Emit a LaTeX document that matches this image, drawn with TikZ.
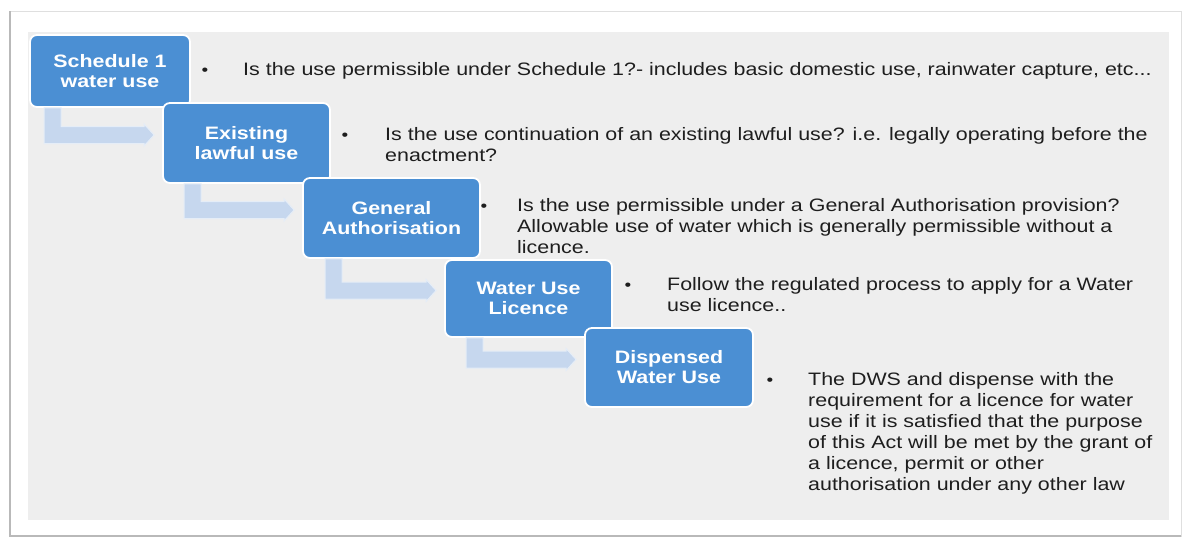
\documentclass[tikz,border=0pt]{standalone}
\usepackage{fontspec}
\setmainfont{Liberation Sans}[FakeStretch=1.19]
\usetikzlibrary{calc}
\definecolor{boxblue}{HTML}{4B8FD3}
\definecolor{arrowfill}{HTML}{C6D7EE}
\definecolor{panelgray}{HTML}{EEEEEE}
\definecolor{txt}{HTML}{1E1E1E}
\newcommand\bodylines[1]{\begin{tabular}[t]{@{}l@{}}#1\end{tabular}}
\newcommand\steparrow[3]{%
  \coordinate (sa) at ($(#1.south west)+(#3,0)$);
  \coordinate (sb) at ($(sa)+(17,0)$);
  \coordinate (ta) at ($(#2.west)+(-8,-8)$);
  \coordinate (tu) at ($(ta)+(-10,-8.5)$);
  \coordinate (tl) at ($(ta)+(-10,8.5)$);
  \coordinate (hu) at ($(ta)+(-10,-11)$);
  \coordinate (hl) at ($(ta)+(-10,11)$);
  \filldraw[bentarrow] (sa) -- (sb) -- (sb |- tu) -- (tu) -- (hu) -- (ta) -- (hl) -- (tl) -- (sa |- tl) -- cycle;
}
\begin{document}
\begin{tikzpicture}[x=1pt,y=-1pt,
  stepbox/.style={rectangle, rounded corners=7pt, fill=boxblue, draw=white, line width=1.8pt,
    text=white, font=\fontsize{18}{20}\selectfont\bfseries, align=center, inner sep=0pt},
  body/.style={anchor=base west, inner sep=0pt, text=txt, font=\fontsize{18}{21}\selectfont},
  bul/.style={anchor=base, inner sep=0pt, text=txt, font=\fontsize{16}{16}\selectfont},
  bentarrow/.style={fill=arrowfill, draw=white!55!arrowfill, line width=1pt}
]
\useasboundingbox (0,0) rectangle (1184,538);
\fill[white] (0,0) rectangle (1184,538);
\draw[gray!25, line width=0.8pt] (10,11) rectangle (1181,536);
\draw[gray!55, line width=1.2pt] (10,11) -- (10,536) -- (1181,536);
\fill[panelgray] (28,32) rectangle (1169,520);

% boxes
\node[stepbox, minimum width=160pt, minimum height=72pt] (b1) at (110,71) {Schedule 1\\water use};
\node[stepbox, minimum width=167pt, minimum height=80pt] (b2) at (246.5,143) {Existing\\lawful use};
\node[stepbox, minimum width=177pt, minimum height=80pt] (b3) at (391.5,218) {General\\Authorisation};
\node[stepbox, minimum width=167pt, minimum height=77pt] (b4) at (528.5,298.5) {Water Use\\Licence};
\node[stepbox, minimum width=168pt, minimum height=79pt] (b5) at (669,367.5) {Dispensed\\Water Use};

% bent arrows
\steparrow{b1}{b2}{15}
\steparrow{b2}{b3}{22}
\steparrow{b3}{b4}{23}
\steparrow{b4}{b5}{22}

% bullets
\node[bul] (p1) at (205,75) {•};
\node[bul] (p2) at (345,140) {•};
\node[bul] (p3) at (484,211) {•};
\node[bul] (p4) at (628,290) {•};
\node[bul] (p5) at (770,385) {•};

% texts
\node[body] (t1) at (243,75) {\bodylines{Is the use permissible under Schedule 1?- includes basic domestic use, rainwater capture, etc...}};
\node[body] (t2) at (385,140) {\bodylines{Is the use continuation of an existing lawful use? i.e. legally operating before the\\enactment?}};
\node[body] (t3) at (517,211) {\bodylines{Is the use permissible under a General Authorisation provision?\\Allowable use of water which is generally permissible without a\\licence.}};
\node[body] (t4) at (667,290) {\bodylines{Follow the regulated process to apply for a Water\\use licence..}};
\node[body] (t5) at (808,385) {\bodylines{The DWS and dispense with the\\requirement for a licence for water\\use if it is satisfied that the purpose\\of this Act will be met by the grant of\\a licence, permit or other\\authorisation under any other law}};
\end{tikzpicture}
\end{document}
